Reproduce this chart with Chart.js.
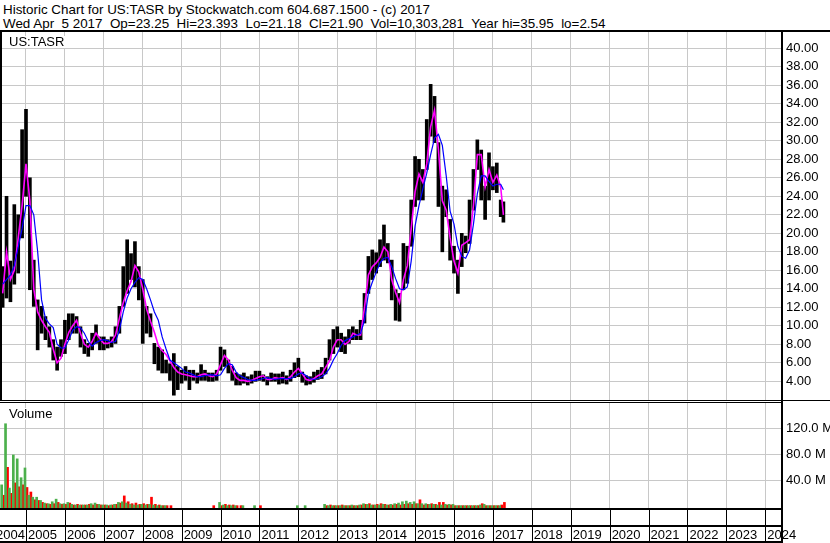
<!DOCTYPE html>
<html>
<head>
<meta charset="utf-8">
<script src="https://cdn.jsdelivr.net/npm/chart.js@4.4.0/dist/chart.umd.min.js"></script>
<style>
  body { margin: 0; background: #fff; }
  #wrap { position: relative; width: 830px; height: 543px; overflow: hidden;
          font-family: "Liberation Sans", Arial, sans-serif; color: #000; }
  .hd { position: absolute; left: 3px; font-size: 13.4px; line-height: 15px; white-space: pre; }
  .ln { position: absolute; background: #000; z-index: 5; }
  .tag { position: absolute; left: 8px; font-size: 13px; line-height: 12px; background: #fff; padding: 0 1px; z-index: 4; }
  canvas { position: absolute; left: 0; }
</style>
</head>
<body>
<div id="wrap">
  <div class="hd" style="top:2px">Historic Chart for US:TASR by Stockwatch.com 604.687.1500 - (c) 2017</div>
  <div class="hd" style="top:16px">Wed Apr  5 2017  Op=23.25  Hi=23.393  Lo=21.18  Cl=21.90  Vol=10,303,281  Year hi=35.95  lo=2.54</div>

  <canvas id="priceChart" width="830" height="368" style="top:32px"></canvas>
  <canvas id="volumeChart" width="830" height="140" style="top:403px"></canvas>

  <div class="tag" style="top:36px">US:TASR</div>
  <div class="tag" style="top:408px">Volume</div>

  <!-- frame -->
  <div class="ln" style="left:0;top:30px;width:830px;height:2px"></div>
  <div class="ln" style="left:0;top:32px;width:2px;height:368px"></div>
  <div class="ln" style="left:781px;top:30px;width:2px;height:513px"></div>
  <div class="ln" style="left:0;top:400px;width:830px;height:1px"></div>
  <div class="ln" style="left:0;top:402px;width:782px;height:1px"></div>
  <div class="ln" style="left:0;top:508px;width:782px;height:2px"></div>
  <div class="ln" style="left:0;top:525px;width:782px;height:2px"></div>
  <div class="ln" style="left:0;top:541px;width:782px;height:2px"></div>
</div>

<script>
// sample dates (decimal years)
const dates = [2004.4, 2004.5, 2004.6, 2004.7, 2004.8, 2004.9,
  2005.0, 2005.1, 2005.2, 2005.3, 2005.4, 2005.5, 2005.6, 2005.7, 2005.8, 2005.9,
  2006.0, 2006.1, 2006.2, 2006.3, 2006.4, 2006.5, 2006.6, 2006.7, 2006.8, 2006.9,
  2007.0, 2007.1, 2007.2, 2007.3, 2007.4, 2007.5, 2007.6, 2007.7, 2007.8, 2007.9,
  2008.0, 2008.1, 2008.2, 2008.3, 2008.4, 2008.5, 2008.6, 2008.7, 2008.8, 2008.9,
  2009.0, 2009.1, 2009.2, 2009.3, 2009.4, 2009.5, 2009.6, 2009.7, 2009.8, 2009.9,
  2010.0, 2010.1, 2010.2, 2010.3, 2010.4, 2010.5, 2010.6, 2010.7, 2010.8, 2010.9,
  2011.0, 2011.1, 2011.2, 2011.3, 2011.4, 2011.5, 2011.6, 2011.7, 2011.8, 2011.9,
  2012.0, 2012.1, 2012.2, 2012.3, 2012.4, 2012.5, 2012.6, 2012.7, 2012.8, 2012.9,
  2013.0, 2013.1, 2013.2, 2013.3, 2013.4, 2013.5, 2013.6, 2013.7, 2013.8, 2013.9,
  2014.0, 2014.1, 2014.2, 2014.3, 2014.4, 2014.5, 2014.6, 2014.7, 2014.8, 2014.9,
  2015.0, 2015.1, 2015.2, 2015.3, 2015.4, 2015.5, 2015.6, 2015.7, 2015.8, 2015.9,
  2016.0, 2016.1, 2016.2, 2016.3, 2016.4, 2016.5, 2016.6, 2016.7, 2016.8, 2016.9,
  2017.0, 2017.1, 2017.2, 2017.27];

const high = [16.4, 24.0, 17.0, 23.1, 22.0, 31.2,
  33.4, 26.0, 17.1, 12.8, 12.1, 11.0, 9.9, 8.5, 7.7, 8.5,
  10.6, 11.3, 11.3, 11.0, 9.9, 8.5, 8.1, 9.2, 10.1, 8.8,
  8.8, 8.5, 8.8, 9.9, 12.1, 16.4, 19.3, 17.8, 19.1, 16.4,
  15.0, 12.1, 11.3, 8.1, 7.7, 7.4, 6.3, 5.9, 7.0, 5.6,
  5.2, 5.6, 5.2, 5.2, 4.9, 5.8, 5.2, 4.9, 4.9, 5.2,
  7.7, 7.4, 6.3, 5.6, 4.9, 4.7, 4.9, 4.5, 4.7, 5.1,
  5.1, 4.7, 4.5, 4.9, 4.8, 4.8, 5.0, 4.6, 5.2, 6.0,
  6.5, 5.0, 4.6, 4.5, 5.0, 5.2, 5.5, 6.5, 8.5, 9.6,
  9.9, 9.2, 8.8, 9.6, 9.9, 9.6, 10.6, 13.5, 17.5, 18.2,
  17.9, 19.3, 20.9, 18.9, 17.1, 13.9, 13.5, 18.9, 18.6, 23.6,
  28.3, 28.0, 26.9, 32.3, 36.1, 34.8, 29.8, 25.1, 24.7, 21.5,
  18.6, 17.1, 20.0, 19.7, 23.6, 26.9, 30.1, 29.0, 25.1, 28.7,
  27.2, 27.6, 23.6, 23.4];

const low = [12.0, 13.0, 12.6, 14.5, 15.7, 19.5,
  24.0, 13.9, 12.1, 7.4, 9.2, 8.5, 7.7, 6.3, 5.2, 6.7,
  7.0, 8.5, 9.2, 9.2, 7.7, 7.0, 6.7, 7.4, 8.1, 7.4,
  7.4, 7.6, 7.7, 8.1, 9.2, 12.1, 13.5, 15.0, 14.2, 12.8,
  8.1, 9.2, 8.8, 5.9, 5.2, 4.9, 4.9, 4.1, 2.5, 3.1,
  3.8, 4.1, 3.1, 4.1, 3.8, 4.1, 4.1, 4.0, 4.0, 4.1,
  5.2, 5.6, 4.9, 4.1, 3.6, 3.6, 3.8, 3.6, 3.8, 4.0,
  4.1, 4.0, 3.6, 4.0, 4.0, 3.7, 3.8, 3.7, 4.0, 4.4,
  4.5, 3.9, 3.6, 3.7, 3.9, 4.2, 4.3, 4.8, 6.3, 7.0,
  7.7, 7.2, 7.0, 8.1, 8.5, 8.5, 8.5, 10.3, 13.5, 15.0,
  15.7, 16.4, 17.1, 16.8, 12.8, 10.6, 10.5, 13.9, 14.6, 18.6,
  22.9, 23.6, 23.6, 26.9, 30.5, 29.8, 22.9, 18.0, 21.8, 17.1,
  15.7, 13.5, 16.4, 17.9, 18.9, 22.5, 26.9, 23.6, 21.5, 23.6,
  24.7, 24.4, 21.8, 21.2];

// short moving average (magenta)
const maFast = [13.5, 18.0, 15.0, 16.0, 19.5, 23.0,
  27.5, 23.5, 14.0, 11.5, 10.6, 9.9, 9.3, 7.5, 6.0, 6.5,
  8.0, 9.3, 10.0, 10.6, 9.2, 8.0, 7.7, 8.3, 9.2, 8.6,
  8.1, 8.1, 8.3, 9.0, 10.8, 12.5, 13.8, 14.8, 16.5, 15.8,
  14.0, 11.8, 10.5, 9.3, 7.9, 7.3, 6.9, 6.2, 5.5, 5.0,
  4.8, 4.7, 4.6, 4.5, 4.5, 4.7, 4.8, 4.6, 4.5, 4.8,
  5.8, 6.8, 6.3, 5.2, 4.4, 4.1, 4.1, 4.0, 4.1, 4.3,
  4.5, 4.6, 4.2, 4.2, 4.4, 4.3, 4.4, 4.2, 4.5, 5.0,
  5.4, 4.8, 4.2, 4.1, 4.3, 4.6, 4.8, 5.5, 6.2, 7.7,
  8.5, 8.5, 8.0, 8.3, 9.2, 9.0, 9.0, 12.0, 15.5, 16.4,
  16.8, 17.4, 18.5, 18.0, 15.0, 13.6, 12.5, 15.0, 16.5, 20.5,
  24.5, 26.4, 25.5, 27.5, 31.5, 33.3, 29.0, 23.5, 22.5, 19.5,
  17.0, 15.7, 18.7, 19.0, 19.3, 23.0, 28.5, 28.5, 25.0, 26.9,
  25.5, 26.3, 25.0, 22.0];

// long moving average (blue)
const maSlow = [14.5, 15.0, 15.5, 16.5, 18.5, 20.5,
  23.0, 23.0, 22.0, 18.0, 12.8, 10.8, 10.2, 9.8, 8.0, 7.6,
  7.6, 8.5, 9.5, 9.9, 9.8, 9.2, 8.3, 7.8, 8.2, 8.4,
  8.5, 8.4, 8.2, 8.3, 9.5, 11.5, 13.0, 14.0, 14.7, 15.2,
  15.0, 14.0, 12.8, 11.5, 10.6, 8.8, 7.5, 6.3, 6.0, 5.7,
  5.4, 5.0, 4.9, 4.7, 4.5, 4.5, 4.6, 4.7, 4.7, 4.6,
  4.7, 5.4, 5.9, 5.8, 5.0, 4.6, 4.4, 4.2, 4.1, 4.1,
  4.2, 4.3, 4.4, 4.3, 4.2, 4.3, 4.3, 4.3, 4.3, 4.5,
  4.8, 4.9, 4.6, 4.3, 4.2, 4.3, 4.5, 4.8, 5.4, 6.3,
  7.0, 7.9, 8.4, 8.6, 8.8, 9.0, 9.2, 10.6, 13.5, 14.7,
  15.8, 16.8, 17.3, 17.4, 16.4, 15.1, 14.0, 13.9, 14.2, 17.0,
  20.8, 23.0, 24.8, 26.5, 28.5, 30.3, 30.7, 29.5, 26.2, 22.4,
  21.0, 18.6, 17.5, 17.3, 18.2, 21.0, 24.3, 26.2, 26.2, 25.6,
  25.1, 25.3, 25.3, 24.7];

// volume in millions, up periods (green) and down periods (red)
const volUp = [33, 127, 28, 79, 73, 44,
  59, 17, 14, 14, 9, 5, 4, 7, 11, 4,
  4, 6, 3, 2, 2, 2, 2, 4, 5, 3,
  2, 2, 2, 3, 6, 7, 5, 3, 2, 2,
  3, 2, 3, 2, 1, 1, 1, 0, 0, 0,
  0, 0, 0, 0, 0, 0, 0, 0, 0, 0,
  6, 2, 1, 1, 1, 0, 1, 0, 0, 1,
  0, 0, 0, 0, 0, 0, 0, 0, 0, 0,
  1, 0, 1, 0, 0, 0, 0, 3, 1, 1,
  1, 1, 1, 1, 2, 1, 2, 4, 3, 2,
  2, 2, 3, 2, 3, 4, 5, 7, 8, 6,
  7, 4, 4, 4, 3, 3, 2, 2, 3, 3,
  3, 1, 1, 1, 1, 1, 1, 2, 3, 1,
  1, 1, 1, 0];
const volDown = [17, 60, 20, 36, 30, 33,
  29, 22, 10, 9, 6, 4, 3, 4, 6, 3,
  3, 5, 2, 3, 2, 2, 3, 2, 3, 2,
  2, 1, 2, 3, 5, 16, 7, 4, 5, 3,
  4, 3, 14, 3, 2, 1, 1, 1, 0, 0,
  0, 0, 0, 0, 0, 0, 0, 0, 1, 0,
  1, 3, 2, 2, 1, 1, 0, 0, 0, 0,
  1, 0, 0, 0, 0, 0, 0, 0, 0, 0,
  0, 0, 0, 0, 0, 0, 0, 1, 2, 1,
  1, 2, 1, 1, 1, 1, 2, 3, 4, 2,
  3, 4, 3, 2, 2, 3, 2, 3, 4, 3,
  4, 10, 2, 3, 4, 3, 6, 6, 2, 2,
  1, 1, 1, 1, 1, 1, 1, 4, 1, 1,
  1, 1, 2, 6];

const years = [2004, 2005, 2006, 2007, 2008, 2009, 2010, 2011, 2012, 2013, 2014,
  2015, 2016, 2017, 2018, 2019, 2020, 2021, 2022, 2023, 2024];
const priceTicks = [4, 6, 8, 10, 12, 14, 16, 18, 20, 22, 24, 26, 28, 30, 32, 34, 36, 38, 40];
const volTicks = [40, 80, 120];

const X_MIN = 2004.332, X_MAX = 2024.43;
const P_MIN = 1.98, P_MAX = 41.76;
const V_MIN = -2.6, V_MAX = 158.9;

Chart.defaults.font.family = '"Liberation Sans", Arial, sans-serif';
Chart.defaults.color = '#000';

const gridColor = '#c8c8c8';
const yearLines = years.filter(y => y > X_MIN);

function xAxis(h) {
  return {
    type: 'linear', min: X_MIN, max: X_MAX, offset: false,
    grid: { color: gridColor, offset: false, drawTicks: false },
    border: { display: false },
    ticks: { display: false },
    afterBuildTicks: s => { s.ticks = yearLines.map(v => ({ value: v })); },
    afterFit: s => { s.height = h; s.paddingLeft = 0; s.paddingRight = 0; }
  };
}
function yAxis(min, max, tickVals, fmt) {
  return {
    position: 'right', min: min, max: max,
    grid: { color: gridColor, drawTicks: false },
    border: { display: false },
    ticks: { padding: 4, font: { size: 13 }, callback: fmt },
    afterBuildTicks: s => { s.ticks = tickVals.map(v => ({ value: v })); },
    afterFit: s => { s.width = 48; s.paddingTop = 0; s.paddingBottom = 0; }
  };
}

new Chart(document.getElementById('priceChart'), {
  type: 'bar',
  data: {
    datasets: [
      {
        type: 'line', data: dates.map((t, i) => ({ x: t, y: maSlow[i] })),
        borderColor: '#0000ff', borderWidth: 1.2, pointRadius: 0, order: 1
      },
      {
        type: 'line', data: dates.map((t, i) => ({ x: t, y: maFast[i] })),
        borderColor: '#ff00ff', borderWidth: 1.6, pointRadius: 0, order: 2
      },
      {
        data: dates.map((t, i) => ({ x: t, y: [low[i], high[i]] })),
        backgroundColor: '#000', barThickness: 3, grouped: false, order: 3
      }
    ]
  },
  options: {
    responsive: false, animation: false, events: [],
    layout: { padding: 0 },
    plugins: { legend: { display: false }, tooltip: { enabled: false } },
    scales: {
      x: xAxis(0),
      y: yAxis(P_MIN, P_MAX, priceTicks, v => v.toFixed(2))
    }
  }
});

const yearLabels = {
  id: 'yearLabels',
  afterDraw(chart) {
    const { ctx, chartArea, scales: { x } } = chart;
    ctx.save();
    ctx.fillStyle = '#000';
    yearLines.forEach(yr => {
      const px = Math.round(x.getPixelForValue(yr));
      ctx.fillRect(px, chartArea.bottom, 1, chart.height - chartArea.bottom);
    });
    ctx.font = '13px "Liberation Sans", Arial, sans-serif';
    ctx.textBaseline = 'alphabetic';
    years.forEach(yr => {
      const px = x.getPixelForValue(yr);
      if (px < chartArea.left) {
        ctx.textAlign = 'right';
        ctx.fillText(String(yr), x.getPixelForValue(yr + 1) - 1, 136);
      } else {
        ctx.textAlign = 'left';
        ctx.fillText(String(yr), px + 2, 136);
      }
    });
    ctx.restore();
  }
};

new Chart(document.getElementById('volumeChart'), {
  type: 'bar',
  data: {
    datasets: [
      {
        data: dates.map((t, i) => ({ x: t, y: volUp[i] || null })),
        backgroundColor: '#4cb04c', barThickness: 2, base: V_MIN
      },
      {
        data: dates.map((t, i) => ({ x: t, y: volDown[i] || null })),
        backgroundColor: '#ff0000', barThickness: 2, base: V_MIN
      }
    ]
  },
  options: {
    responsive: false, animation: false, events: [],
    layout: { padding: 0 },
    plugins: { legend: { display: false }, tooltip: { enabled: false } },
    scales: {
      x: xAxis(35),
      y: yAxis(V_MIN, V_MAX, volTicks, v => v.toFixed(1) + ' M')
    }
  },
  plugins: [yearLabels]
});
</script>
</body>
</html>
